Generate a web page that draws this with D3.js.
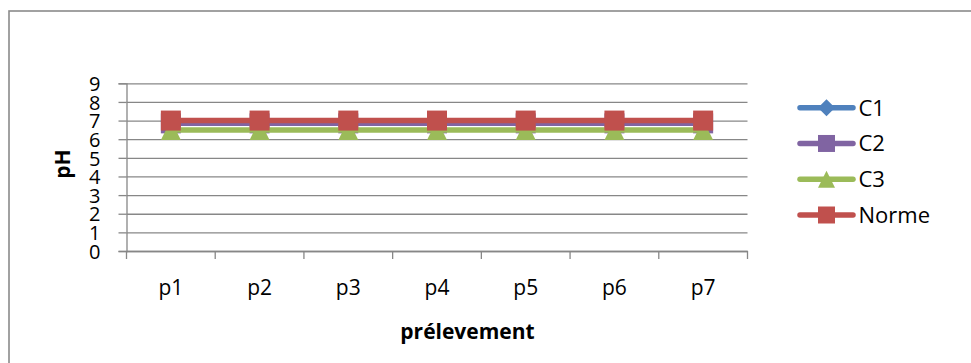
<!DOCTYPE html>
<html>
<head>
<meta charset="utf-8">
<script src="https://cdn.jsdelivr.net/npm/d3@7"></script>
<style>
  html, body { margin: 0; padding: 0; background: #ffffff; }
  svg { display: block; }
</style>
</head>
<body>
<svg id="chart" width="971" height="363"></svg>
<script>
// pH measured at each sampling point, with the reference norm
const categories = ["p1", "p2", "p3", "p4", "p5", "p6", "p7"];
const c1 = [6.9, 6.9, 6.9, 6.9, 6.9, 6.9, 6.9];
const c2 = [6.85, 6.85, 6.85, 6.85, 6.85, 6.85, 6.85];
const c3 = [6.5, 6.5, 6.5, 6.5, 6.5, 6.5, 6.5];
const norme = [7, 7, 7, 7, 7, 7, 7];
const seriesNames = ["C1", "C2", "C3", "Norme"];
const yTicks = [0, 1, 2, 3, 4, 5, 6, 7, 8, 9];
const yTitle = "pH";
const xTitle = "prélevement";

const series = [
  { name: seriesNames[0], values: c1, color: "#4f81bd", marker: "diamond" },
  { name: seriesNames[1], values: c2, color: "#8064a2", marker: "square" },
  { name: seriesNames[2], values: c3, color: "#9bbb59", marker: "triangle" },
  { name: seriesNames[3], values: norme, color: "#c0504d", marker: "square" }
];

const FONT = "'Open Sans', 'Liberation Sans', sans-serif";
const GRID = "#878787";

const plot = { left: 126.5, right: 747.5, top: 83.3, bottom: 251 };

const svg = d3.select("#chart");
svg.append("rect").attr("width", 971).attr("height", 363).attr("fill", "#fff");

// chart area frame (continues past the right and bottom edges)
svg.append("rect")
  .attr("x", 9).attr("y", 11)
  .attr("width", 1100).attr("height", 500)
  .attr("fill", "none")
  .attr("stroke", "#8a8a8a")
  .attr("stroke-width", 1.6);

const x = d3.scaleBand().domain(categories).range([plot.left, plot.right]);
const y = d3.scaleLinear().domain([0, 9]).range([plot.bottom, plot.top]);
const xc = d => x(d) + x.bandwidth() / 2;

// horizontal gridlines
svg.append("g")
  .attr("transform", `translate(${plot.left},0)`)
  .call(d3.axisLeft(y).tickValues(yTicks).tickSize(-(plot.right - plot.left)).tickFormat(""))
  .call(g => g.select(".domain").remove())
  .call(g => g.selectAll("line").attr("stroke", GRID).attr("stroke-width", 1.3));

// y axis with outer ticks and labels
svg.append("g")
  .attr("transform", `translate(${plot.left},0)`)
  .call(d3.axisLeft(y).tickValues(yTicks).tickSize(8).tickPadding(18).tickFormat(d3.format("d")))
  .call(g => g.select(".domain").attr("stroke", GRID).attr("stroke-width", 1.3))
  .call(g => g.selectAll("line").attr("stroke", GRID).attr("stroke-width", 1.3))
  .call(g => g.selectAll("text")
    .attr("fill", "#000")
    .attr("dy", "0.36em")
    .style("font-family", FONT)
    .style("font-size", "20px"));

// x axis: baseline, tick marks between categories, labels under each category
const xAxis = svg.append("g").attr("transform", `translate(0,${plot.bottom})`);
xAxis.call(d3.axisBottom(x).tickSize(0).tickPadding(0))
  .call(g => g.select(".domain").attr("stroke", GRID).attr("stroke-width", 1.3))
  .call(g => g.selectAll("text")
    .attr("fill", "#000")
    .attr("y", 44)
    .attr("dy", 0)
    .style("font-family", FONT)
    .style("font-size", "21px"));
const bounds = categories.map(d => x(d)).concat([x.range()[1]]);
xAxis.selectAll("line.bound")
  .data(bounds)
  .join("line")
  .attr("class", "bound")
  .attr("x1", d => d).attr("x2", d => d)
  .attr("y1", 0).attr("y2", 8)
  .attr("stroke", GRID).attr("stroke-width", 1.3);

// marker shapes
function markerPath(type, r) {
  if (type === "square") return `M${-r},${-r}H${r}V${r}H${-r}Z`;
  if (type === "diamond") return `M0,${-r}L${r},0L0,${r}L${-r},0Z`;
  if (type === "triangle") return `M0,${-r}L${r},${r}L${-r},${r}Z`;
  return "";
}

const line = d3.line().x((d, i) => xc(categories[i])).y(d => y(d));

const seriesG = svg.append("g");
series.forEach(s => {
  const g = seriesG.append("g");
  g.append("path")
    .datum(s.values)
    .attr("d", line)
    .attr("fill", "none")
    .attr("stroke", s.color)
    .attr("stroke-width", 5.5)
    .attr("stroke-linejoin", "round");
  g.selectAll("path.mk")
    .data(s.values)
    .join("path")
    .attr("class", "mk")
    .attr("transform", (d, i) => `translate(${xc(categories[i])},${y(d)})`)
    .attr("d", markerPath(s.marker, 10))
    .attr("fill", s.color);
});

// axis titles
svg.append("text")
  .attr("transform", "translate(70,164) rotate(-90)")
  .attr("text-anchor", "middle")
  .style("font-family", FONT)
  .style("font-size", "21px")
  .style("font-weight", "bold")
  .text(yTitle);

svg.append("text")
  .attr("x", 467.5).attr("y", 338.5)
  .attr("text-anchor", "middle")
  .style("font-family", FONT)
  .style("font-size", "21px")
  .style("font-weight", "bold")
  .text(xTitle);

// legend
const legend = svg.append("g");
const rowY = d3.scalePoint().domain(seriesNames).range([107.7, 215]);
series.forEach(s => {
  const row = legend.append("g").attr("transform", `translate(0,${rowY(s.name)})`);
  row.append("line")
    .attr("x1", 800).attr("x2", 853)
    .attr("stroke", s.color)
    .attr("stroke-width", 5.5)
    .attr("stroke-linecap", "round");
  row.append("path")
    .attr("transform", "translate(826.5,0)")
    .attr("d", markerPath(s.marker, 8.5))
    .attr("fill", s.color);
  row.append("text")
    .attr("x", 858.5)
    .attr("dy", "0.36em")
    .style("font-family", FONT)
    .style("font-size", "22px")
    .text(s.name);
});
</script>
</body>
</html>
